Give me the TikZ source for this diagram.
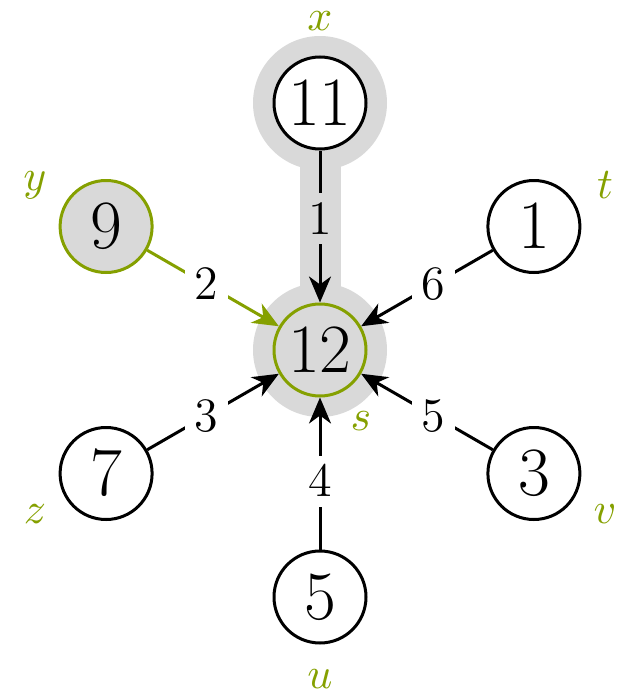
\documentclass[tikz,border=0pt]{standalone}
\usetikzlibrary{arrows.meta}
\definecolor{hlgreen}{RGB}{133,160,0}
\definecolor{hlgray}{gray}{0.85}
\begin{document}
\begin{tikzpicture}[x=0.25pt,y=-0.25pt,
  vertex/.style={circle,draw,line width=0.75pt,minimum size=23pt,inner sep=0pt,font=\LARGE,fill=white},
  selvertex/.style={vertex,draw=hlgreen,fill=hlgray},
  wlabel/.style={font=\large,fill=white,inner sep=2.5pt,text=black,pos=0.45},
  vname/.style={text=hlgreen,font=\fontsize{10.8}{13}\selectfont,inner sep=0pt},
  arc/.style={line width=0.75pt,-{Stealth[length=6.5pt,width=5.5pt,inset=2pt]}},
]
\useasboundingbox (0,0) rectangle (622,696);
% highlight
\coordinate (hx) at (320,103);
\coordinate (hs) at (320,350);
\draw[hlgray,line width=10.25pt] (hx) -- (hs);
\fill[hlgray] (hx) circle[radius=16.75pt];
\fill[hlgray] (hs) circle[radius=16.75pt];
% vertices
\node[vertex] (x) at (320,103) {$11$};
\node[selvertex] (s) at (320,350) {$12$};
\node[selvertex] (y) at (106.1,226.5) {$9$};
\node[vertex] (t) at (533.9,226.5) {$1$};
\node[vertex] (z) at (106.1,473.5) {$7$};
\node[vertex] (v) at (533.9,473.5) {$3$};
\node[vertex] (u) at (320,597) {$5$};
% names
\node[vname] (xl) at (320,21) {$x$};
\node[vname] (yl) at (35,185.5) {$y$};
\node[vname] (tl) at (605,185.5) {$t$};
\node[vname] (zl) at (35,514.5) {$z$};
\node[vname] (vl) at (605,514.5) {$v$};
\node[vname] (ul) at (320,679) {$u$};
\node[vname] (sl) at (361,421) {$s$};
% arcs
\draw[arc] (x) -- node[wlabel,fill=hlgray,inner xsep=1pt]{$1$} (s);
\draw[arc,hlgreen] (y) -- node[wlabel]{$2$} (s);
\draw[arc] (t) -- node[wlabel]{$6$} (s);
\draw[arc] (z) -- node[wlabel]{$3$} (s);
\draw[arc] (v) -- node[wlabel]{$5$} (s);
\draw[arc] (u) -- node[wlabel]{$4$} (s);
\end{tikzpicture}
\end{document}
